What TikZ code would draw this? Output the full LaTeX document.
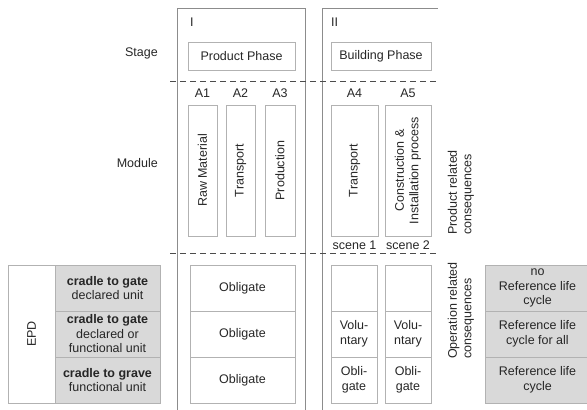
\documentclass[tikz,border=0pt]{standalone}
\usepackage{fontspec}
\setmainfont{Liberation Sans}
\usetikzlibrary{positioning}
\begin{document}
\begin{tikzpicture}[x=1pt,y=-1pt,
  txt/.style={font=\fontsize{12.5}{14.5}\selectfont, align=center, inner sep=0pt, text=black!85},
  frame/.style={draw=black!45, line width=0.7pt},
  cell/.style={txt, draw=black!30, line width=0.6pt},
  greycell/.style={cell, fill=black!15},
  sep/.style={draw=black!70, line width=0.8pt, dash pattern=on 6pt off 4pt}]
\useasboundingbox (0,0) rectangle (587,410);
% columns I and II
\draw[frame] (177,410) -- (177,8) -- (305,8) -- (305,410);
\draw[frame] (322,410) -- (322,8) -- (438,8);
\draw[sep] (170,81) -- (438,81);
\draw[sep] (170,253) -- (438,253);
\node[txt, anchor=west] (numI) at (190,22) {I};
\node[txt, anchor=west] (numII) at (331,22) {II};
% stage
\node[txt, anchor=east] (stage) at (158,53) {Stage};
\node[cell, minimum width=107, minimum height=28] (product) at (241.5,56) {Product Phase};
\node[cell, minimum width=100, minimum height=28] (building) at (381,56) {Building Phase};
% module
\node[txt, anchor=east] (module) at (158,163) {Module};
\node[txt] (a1) at (202.5,93) {A1};
\node[txt] (a2) at (240.5,93) {A2};
\node[txt] (a3) at (280,93) {A3};
\node[txt] (a4) at (354.5,93) {A4};
\node[txt] (a5) at (408,93) {A5};
\node[cell, rotate=90, minimum width=131, minimum height=29] (raw) at (202.5,170.5) {Raw Material};
\node[cell, rotate=90, minimum width=131, minimum height=29] (trans) at (240.5,170.5) {Transport};
\node[cell, rotate=90, minimum width=131, minimum height=30] (prod) at (280,170.5) {Production};
\node[cell, rotate=90, minimum width=131, minimum height=47] (trans2) at (354.5,170.5) {Transport};
\node[cell, rotate=90, minimum width=131, minimum height=46] (constr) at (408,170.5) {Construction \&\\Installation process};
\node[txt] (scene1) at (354.5,245) {scene 1};
\node[txt] (scene2) at (408,245) {scene 2};
\node[txt, rotate=90, anchor=west, align=left] (prodcons) at (461,235) {Product related\\consequences};
% EPD
\node[cell, rotate=90, minimum width=138, minimum height=47] (epd) at (31.5,334) {EPD};
\node[greycell, minimum width=105, minimum height=46] (gate1) at (107.5,288) {\textbf{cradle to gate}\\declared unit};
\node[greycell, minimum width=105, minimum height=46] (gate2) at (107.5,334) {\textbf{cradle to gate}\\declared or\\functional unit};
\node[greycell, minimum width=105, minimum height=46] (grave) at (107.5,380) {\textbf{cradle to grave}\\functional unit};
\node[cell, minimum width=105, minimum height=46] (obl1) at (242.5,288) {Obligate};
\node[cell, minimum width=105, minimum height=46] (obl2) at (242.5,334) {Obligate};
\node[cell, minimum width=105, minimum height=46] (obl3) at (242.5,380) {Obligate};
\node[cell, minimum width=46, minimum height=46] (sa1) at (354,288) {};
\node[cell, minimum width=46, minimum height=46] (sa2) at (354,334) {Volu-\\ntary};
\node[cell, minimum width=46, minimum height=46] (sa3) at (354,380) {Obli-\\gate};
\node[cell, minimum width=46, minimum height=46] (sb1) at (408,288) {};
\node[cell, minimum width=46, minimum height=46] (sb2) at (408,334) {Volu-\\ntary};
\node[cell, minimum width=46, minimum height=46] (sb3) at (408,380) {Obli-\\gate};
\node[txt, rotate=90, anchor=west, align=left] (opcons) at (461,359) {Operation related\\consequences};
\node[greycell, minimum width=105, minimum height=46] (ref1) at (537.5,288) {no\\Reference life\\cycle};
\node[greycell, minimum width=105, minimum height=46] (ref2) at (537.5,334) {Reference life\\cycle for all};
\node[greycell, minimum width=105, minimum height=46] (ref3) at (537.5,380) {Reference life\\cycle};
\end{tikzpicture}
\end{document}
